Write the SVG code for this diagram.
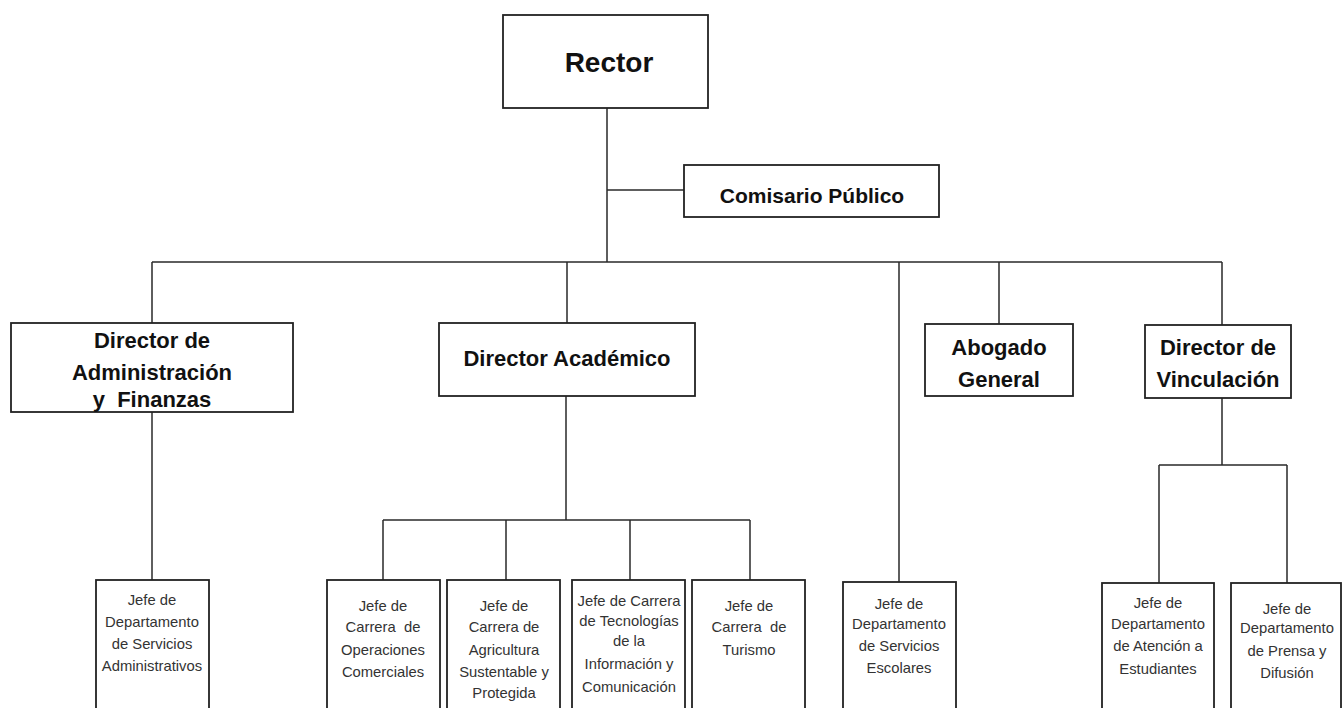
<svg xmlns="http://www.w3.org/2000/svg" width="1343" height="708" viewBox="0 0 1343 708">
<style>
.box{fill:#fff;stroke:#222;stroke-width:1.8}
.ln{fill:none;stroke:#2a2a2a;stroke-width:1.5}
.h{font-family:"Liberation Sans",Arial,sans-serif;font-weight:bold;font-size:22px;fill:#111;text-anchor:middle}
.s{font-family:"Liberation Sans",Arial,sans-serif;font-size:14.8px;fill:#333;text-anchor:middle}
</style>
<rect width="1343" height="708" fill="#fff"/>
<g id="connectors">
<path class="ln" d="M607,108 V262 M607,190 H684 M152,262 H1222 M152,262 V323 M567,262 V323 M899,262 V582 M999,262 V324 M1222,262 V325"/>
<path class="ln" d="M152,412 V580"/>
<path class="ln" d="M566,396 V520 M383,520 H750 M383,520 V580 M506,520 V580 M630,520 V580 M750,520 V580"/>
<path class="ln" d="M1222,398 V465 M1159,465 H1287 M1159,465 V583 M1287,465 V583"/>
</g>
<g id="rector">
<rect class="box" x="503" y="15" width="205" height="93"/>
<text class="h" x="609" y="72" style="font-size:28px">Rector</text>
</g>
<g id="comisario">
<rect class="box" x="684" y="165" width="255" height="52"/>
<text class="h" x="812" y="203" style="font-size:21px">Comisario Público</text>
</g>
<g id="dir-admin">
<rect class="box" x="11" y="323" width="282" height="89"/>
<text class="h" x="152" y="348">Director de</text>
<text class="h" x="152" y="380">Administración</text>
<text class="h" x="152" y="407">y&#160; Finanzas</text>
</g>
<g id="dir-academico">
<rect class="box" x="439" y="323" width="256" height="73"/>
<text class="h" x="567" y="366">Director Académico</text>
</g>
<g id="abogado">
<rect class="box" x="925" y="324" width="148" height="72"/>
<text class="h" x="999" y="355">Abogado</text>
<text class="h" x="999" y="387">General</text>
</g>
<g id="dir-vinculacion">
<rect class="box" x="1145" y="325" width="146" height="73"/>
<text class="h" x="1218" y="355">Director de</text>
<text class="h" x="1218" y="387">Vinculación</text>
</g>
<g id="jefe-serv-admin">
<rect class="box" x="96" y="580" width="113" height="135"/>
<text class="s" x="152" y="605">Jefe de</text>
<text class="s" x="152" y="627">Departamento</text>
<text class="s" x="152" y="649">de Servicios</text>
<text class="s" x="152" y="671">Administrativos</text>
</g>
<g id="jefe-operaciones">
<rect class="box" x="327" y="580" width="113" height="135"/>
<text class="s" x="383" y="611">Jefe de</text>
<text class="s" x="383" y="632">Carrera&#160; de</text>
<text class="s" x="383" y="655">Operaciones</text>
<text class="s" x="383" y="677">Comerciales</text>
</g>
<g id="jefe-agricultura">
<rect class="box" x="447" y="580" width="113" height="135"/>
<text class="s" x="504" y="611">Jefe de</text>
<text class="s" x="504" y="632">Carrera de</text>
<text class="s" x="504" y="655">Agricultura</text>
<text class="s" x="504" y="677">Sustentable y</text>
<text class="s" x="504" y="698">Protegida</text>
</g>
<g id="jefe-tecnologias">
<rect class="box" x="572" y="580" width="113" height="135"/>
<text class="s" x="629" y="606">Jefe de Carrera</text>
<text class="s" x="629" y="626">de Tecnologías</text>
<text class="s" x="629" y="646">de la</text>
<text class="s" x="629" y="669">Información y</text>
<text class="s" x="629" y="692">Comunicación</text>
</g>
<g id="jefe-turismo">
<rect class="box" x="692" y="580" width="113" height="135"/>
<text class="s" x="749" y="611">Jefe de</text>
<text class="s" x="749" y="632">Carrera&#160; de</text>
<text class="s" x="749" y="655">Turismo</text>
</g>
<g id="jefe-escolares">
<rect class="box" x="843" y="582" width="113" height="135"/>
<text class="s" x="899" y="609">Jefe de</text>
<text class="s" x="899" y="629">Departamento</text>
<text class="s" x="899" y="651">de Servicios</text>
<text class="s" x="899" y="673">Escolares</text>
</g>
<g id="jefe-atencion">
<rect class="box" x="1102" y="583" width="112" height="135"/>
<text class="s" x="1158" y="608">Jefe de</text>
<text class="s" x="1158" y="629">Departamento</text>
<text class="s" x="1158" y="651">de Atención a</text>
<text class="s" x="1158" y="674">Estudiantes</text>
</g>
<g id="jefe-prensa">
<rect class="box" x="1231" y="583" width="110" height="135"/>
<text class="s" x="1287" y="614">Jefe de</text>
<text class="s" x="1287" y="633">Departamento</text>
<text class="s" x="1287" y="656">de Prensa y</text>
<text class="s" x="1287" y="678">Difusión</text>
</g>
</svg>
